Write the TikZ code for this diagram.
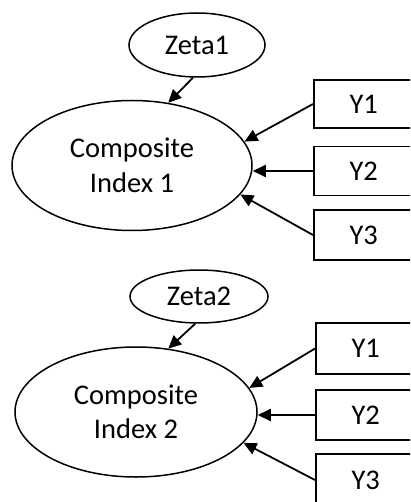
\documentclass[tikz,border=0pt]{standalone}
\usepackage{fontspec}
\setmainfont{Carlito}
\usetikzlibrary{shapes.geometric,arrows.meta}
\begin{document}
\begin{tikzpicture}[x=1pt,y=-1pt,
  every node/.style={font=\fontsize{28.5}{34.5}\selectfont},
  oval/.style={draw,ellipse,line width=1.5pt,inner sep=0pt,align=center},
  obs/.style={draw,rectangle,line width=1.5pt,minimum width=100pt,anchor=west,inner sep=0pt},
  arr/.style={line width=1.8pt,-{Triangle[length=13pt,width=12pt]}}]
\useasboundingbox (0,0) rectangle (410,502);
\clip (0,0) rectangle (410,502);
% top group
\node[oval,minimum width=136pt,minimum height=64pt] (z1) at (197,45) {Zeta1};
\node[oval,minimum width=240pt,minimum height=130pt] (c1) at (132,165.5) {Composite\\Index 1};
\node[obs,minimum height=48pt] (a1) at (313,104) {Y1};
\node[obs,minimum height=49pt] (a2) at (313,171) {Y2};
\node[obs,minimum height=50pt] (a3) at (313,235) {Y3};
\draw[arr] (z1.263) -- (c1.60);
\draw[arr] (a1.west) -- (c1.12.3);
\draw[arr] (a2.west) -- (a2.west -| c1.east);
\draw[arr] (a3.west) -- (c1.-15.7);
% bottom group
\node[oval,minimum width=138pt,minimum height=53pt] (z2) at (199,296.5) {Zeta2};
\node[oval,minimum width=242pt,minimum height=130pt] (c2) at (136,412) {Composite\\Index 2};
\node[obs,minimum height=51pt] (b1) at (315,348.5) {Y1};
\node[obs,minimum height=50pt] (b2) at (315,415) {Y2};
\node[obs,minimum height=52pt] (b3) at (315,480) {Y3};
\draw[arr] (z2.262) -- (c2.63.8);
\draw[arr] (b1.west) -- (c2.12.8);
\draw[arr] (b2.west) -- (b2.west -| c2.east);
\draw[arr] (b3.west) -- (c2.-16);
\end{tikzpicture}
\end{document}
